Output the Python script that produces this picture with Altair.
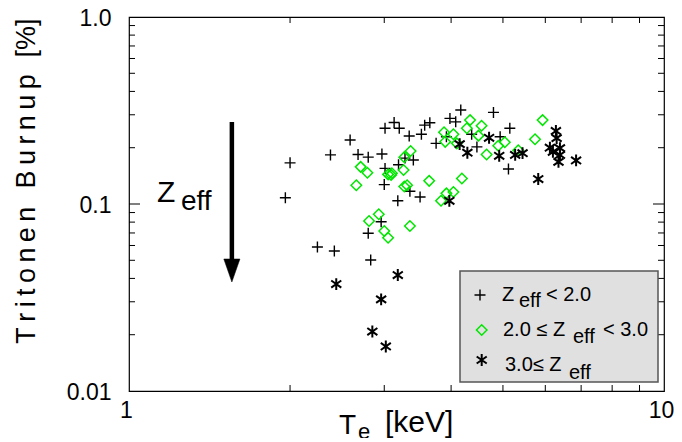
import altair as alt
import pandas as pd

# ---------------- data ----------------
# Z_eff < 2.0  (plus markers)
plus_te = [2.00, 1.96, 2.25, 2.42, 2.83, 2.38, 2.59, 2.68, 2.80, 2.97,
           3.01, 3.13, 3.20, 3.34, 3.52, 3.01, 3.00, 3.19, 3.28, 3.40,
           3.18, 3.35, 3.50, 2.96, 2.80, 3.57, 4.17, 4.80, 3.65, 3.98,
           4.08, 3.75, 3.92, 4.37, 5.15, 4.47, 4.94, 5.12]
plus_burn = [0.166, 0.108, 0.0589, 0.0561, 0.0502, 0.183, 0.220, 0.184, 0.178, 0.185,
             0.254, 0.273, 0.254, 0.231, 0.236, 0.155, 0.127, 0.162, 0.176, 0.172,
             0.104, 0.117, 0.109, 0.0804, 0.0697, 0.264, 0.318, 0.309, 0.272, 0.287,
             0.275, 0.211, 0.229, 0.236, 0.254, 0.202, 0.229, 0.154]

# 2.0 <= Z_eff < 3.0  (green diamonds)
dia_te = [2.71, 2.79, 2.66, 3.05, 3.09, 3.10, 3.26, 3.27, 3.36, 3.27,
          3.31, 2.93, 2.81, 3.00, 3.05, 3.35, 3.64, 3.88, 3.90, 4.04,
          4.34, 4.28, 4.56, 4.50, 4.10, 4.66, 4.90, 5.04, 5.34, 5.93,
          5.74, 4.19, 4.04, 3.92, 3.83]
dia_burn = [0.158, 0.147, 0.126, 0.144, 0.143, 0.146, 0.152, 0.178, 0.192, 0.124,
            0.126, 0.0881, 0.0811, 0.0717, 0.0660, 0.0763, 0.133, 0.242, 0.215, 0.236,
            0.281, 0.254, 0.262, 0.232, 0.211, 0.184, 0.205, 0.214, 0.194, 0.281,
            0.222, 0.137, 0.116, 0.114, 0.104]

# 3.0 <= Z_eff  (asterisks)
star_te = [2.44, 3.18, 2.96, 2.85, 3.02, 4.15, 4.29, 4.71, 4.92, 5.27,
           5.44, 5.82, 3.97, 6.28, 6.30, 6.12, 6.39, 6.39, 6.35, 6.85, 6.20]
star_burn = [0.0373, 0.0417, 0.0309, 0.0208, 0.0173, 0.209, 0.188, 0.226, 0.181, 0.183,
             0.187, 0.136, 0.104, 0.246, 0.225, 0.200, 0.199, 0.183, 0.168, 0.171, 0.190]

# Z_eff arrow (data coordinates)
arrow_te = [1.557]
arrow_top = [0.2745]
arrow_head = [0.0441]

# axis ticks and labels
x_tick_values = [1, 10]
x_tick_labels = ["1", "10"]
x_minor = [2, 3, 4, 5, 6, 7, 8, 9]
y_tick_values = [0.01, 0.1, 1]
y_tick_labels = ["0.01", "0.1", "1.0"]
y_minor = [0.02, 0.03, 0.04, 0.05, 0.06, 0.07, 0.08, 0.09,
           0.2, 0.3, 0.4, 0.5, 0.6, 0.7, 0.8, 0.9]
y_major_inner = [0.1]

# ---------------- styling ----------------
W, H = 535, 374
FONT = "Liberation Sans"
GREEN = "#00e600"
PLUS = "M-1,0L1,0M0,-1L0,1"
STAR = "M0,-1L0,1M-0.85,-0.6L0.85,0.6M-0.85,0.6L0.85,-0.6"
HEAD = "M-0.7,-1L0.7,-1L0,1Z"
SP = "\u2009"

xscale = alt.Scale(type="log", domain=[1, 10], nice=False)
yscale = alt.Scale(type="log", domain=[0.01, 1], nice=False)


def label_expr(values, labels):
    expr = "''"
    for v, l in reversed(list(zip(values, labels))):
        expr = f"abs(datum.value - {v}) < {v * 1e-6} ? '{l}' : ({expr})"
    return expr


x_axis = alt.Axis(values=x_tick_values, labelExpr=label_expr(x_tick_values, x_tick_labels),
                  ticks=False, tickSize=0, domain=False, grid=False, title=None,
                  labelFont=FONT, labelFontSize=23, labelColor="black",
                  labelPadding=8, labelOffset=-3, labelFlush=False)
y_axis = alt.Axis(values=y_tick_values, labelExpr=label_expr(y_tick_values, y_tick_labels),
                  ticks=False, tickSize=0, domain=False, grid=False, title=None,
                  labelFont=FONT, labelFontSize=23, labelColor="black",
                  labelPadding=18, labelOffset=1, labelFlush=False)


def X(field):
    return alt.X(field, scale=xscale, axis=x_axis)


def Y(field):
    return alt.Y(field, scale=yscale, axis=y_axis)


one = pd.DataFrame({"k": [0]})


def points(te, burn, shape, size, color, sw):
    df = pd.DataFrame({"Te": te, "B": burn})
    return alt.Chart(df).mark_point(shape=shape, size=size, filled=False, stroke=color,
                                    strokeWidth=sw, opacity=1).encode(
        x=X("Te:Q"), y=Y("B:Q"))


layers = []
layers.append(points(plus_te, plus_burn, PLUS, 121, "black", 1.4))
layers.append(points(dia_te, dia_burn, "diamond", 110, GREEN, 1.5))
layers.append(points(star_te, star_burn, STAR, 140, "black", 2))

# inward ticks
xm = pd.DataFrame({"Te": x_minor})
ym = pd.DataFrame({"B": y_minor})
yM = pd.DataFrame({"B": y_major_inner})
rule = dict(color="black", strokeWidth=1)
layers.append(alt.Chart(xm).mark_rule(**rule).encode(
    x=X("Te:Q"), y=alt.value(H), y2=alt.value(H - 6)))
layers.append(alt.Chart(xm).mark_rule(**rule).encode(
    x=X("Te:Q"), y=alt.value(0), y2=alt.value(6)))
layers.append(alt.Chart(ym).mark_rule(**rule).encode(
    y=Y("B:Q"), x=alt.value(0), x2=alt.value(6)))
layers.append(alt.Chart(ym).mark_rule(**rule).encode(
    y=Y("B:Q"), x=alt.value(W), x2=alt.value(W - 6)))
layers.append(alt.Chart(yM).mark_rule(**rule).encode(
    y=Y("B:Q"), x=alt.value(0), x2=alt.value(11)))
layers.append(alt.Chart(yM).mark_rule(**rule).encode(
    y=Y("B:Q"), x=alt.value(W), x2=alt.value(W - 11)))

# arrow
adf = pd.DataFrame({"Te": arrow_te, "B": arrow_top, "head": arrow_head})
layers.append(alt.Chart(adf).mark_rule(color="black", strokeWidth=4.5).encode(
    x=X("Te:Q"), y=Y("B:Q"), y2="head:Q"))
layers.append(alt.Chart(adf).mark_point(shape=HEAD, size=529, filled=True, fill="black",
                                        stroke="black", strokeWidth=0.5, opacity=1).encode(
    x=X("Te:Q"), y=Y("head:Q")))


def txt(s, x, y, size, angle=0, align="left", baseline="alphabetic"):
    return alt.Chart(one).mark_text(text=s, font=FONT, fontSize=size, color="black",
                                    align=align, baseline=baseline, angle=angle).encode(
        x=alt.value(x), y=alt.value(y))


# Z_eff annotation
layers.append(txt("Z", 28, 185, 30))
layers.append(txt("eff", 52, 193, 28))

# axis titles
layers.append(txt("T", 210, 417, 28))
layers.append(txt("e", 229, 422, 22))
layers.append(txt("[keV]", 256, 415, 30))
layers.append(txt(SP.join("Tritonen Burnup"), -102, 192, 27, angle=270,
                  align="center", baseline="middle"))
layers.append(txt("[%]", -102, 21, 27, angle=270, align="center", baseline="middle"))

# legend
layers.append(alt.Chart(one).mark_rect(fill="#e0e0e0", stroke="#555555", strokeWidth=1.5).encode(
    x=alt.value(331), x2=alt.value(529), y=alt.value(254), y2=alt.value(365)))
layers.append(alt.Chart(one).mark_point(shape=PLUS, size=121, filled=False, stroke="black",
                                        strokeWidth=1.4, opacity=1).encode(
    x=alt.value(351), y=alt.value(278)))
layers.append(alt.Chart(one).mark_point(shape="diamond", size=110, filled=False, stroke=GREEN,
                                        strokeWidth=1.5, opacity=1).encode(
    x=alt.value(352.7), y=alt.value(313)))
layers.append(alt.Chart(one).mark_point(shape=STAR, size=140, filled=False, stroke="black",
                                        strokeWidth=2, opacity=1).encode(
    x=alt.value(352.7), y=alt.value(343)))
LF = 20
layers.append(txt("Z", 373, 284, LF))
layers.append(txt("eff", 390, 290, LF))
layers.append(txt("< 2.0", 417, 284, LF))
layers.append(txt("2.0 \u2264 Z", 374, 319, LF))
layers.append(txt("eff", 444, 326, LF))
layers.append(txt("< 3.0", 474, 319, LF))
layers.append(txt("3.0\u2264 Z", 376, 354, LF))
layers.append(txt("eff", 440, 362, LF))

chart = alt.layer(*layers).properties(
    width=W, height=H,
    autosize=alt.AutoSizeParams(type="none"),
    padding={"left": 121, "top": 9, "right": 10, "bottom": 47},
).configure_view(stroke="black", strokeWidth=1.2)

chart.save("out.html", embed_options={"renderer": "svg", "actions": False})
